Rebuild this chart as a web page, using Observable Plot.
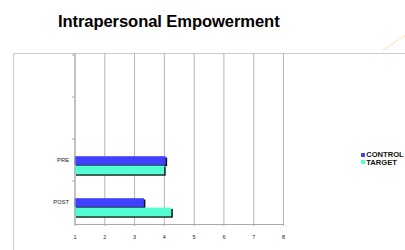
<!DOCTYPE html>
<html>
<head>
<meta charset="utf-8">
<script src="https://cdn.jsdelivr.net/npm/d3@7"></script>
<script src="https://cdn.jsdelivr.net/npm/@observablehq/plot@0.6"></script>
<style>
  html, body { margin: 0; padding: 0; background: #fff; }
  #wrap { position: relative; width: 405px; height: 250px; overflow: hidden; font-family: "Liberation Sans", Arial, sans-serif; }
  #title { position: absolute; left: 58px; top: 12px; font-size: 16.6px; font-weight: bold; color: #000; white-space: nowrap; letter-spacing: -0.1px; }
  #border { position: absolute; left: 13px; top: 52.5px; width: 400px; height: 210px; border-left: 1.5px solid #cccccc; border-top: 1.5px solid #cccccc; box-sizing: border-box; }
  #legend { position: absolute; left: 361px; top: 151px; font-size: 7.6px; font-weight: bold; line-height: 7.7px; white-space: nowrap; color: #111; }
  #legend .sw { display: inline-block; width: 4px; height: 4px; margin-right: 1.2px; vertical-align: 0.5px; }
  #plot { position: absolute; left: 0; top: 0; }
  #deco { position: absolute; left: 0; top: 0; }
</style>
</head>
<body>
<div id="wrap">
  <div id="border"></div>
  <div id="plot"></div>
  <div id="title">Intrapersonal Empowerment</div>
  <div id="legend"></div>
  <svg id="deco" width="405" height="250"><line x1="383" y1="50.5" x2="406" y2="35" stroke="#ffd27f" stroke-width="1" stroke-dasharray="1.5 0.8"/></svg>
</div>
<script>
const categories = ["", " ", "PRE", "POST"];
const series = ["CONTROL", "TARGET"];
const controlValues = [null, null, 4.06, 3.33];
const targetValues = [null, null, 4.01, 4.25];
const xTicks = [1, 2, 3, 4, 5, 6, 7, 8];
const colors = ["#4040ff", "#52ffd2"];

const seriesValues = [controlValues, targetValues];
const data = categories.flatMap((c, i) =>
  series.map((s, j) => ({cat: c, series: s, value: seriesValues[j][i]}))
).filter(d => d.value != null);
const controlData = data.filter(d => d.series === series[0]);
const targetData = data.filter(d => d.series === series[1]);

// position of each series' bar inside its category band (px from band top / bottom)
const controlInset = {insetTop: 17.2, insetBottom: 16.1};
const targetInset = {insetTop: 26.6, insetBottom: 6.6};

const chart = Plot.plot({
  width: 405,
  height: 250,
  marginTop: 53,
  marginBottom: 26,
  marginLeft: 74.5,
  marginRight: 122,
  style: {fontFamily: "'Liberation Sans', Arial, sans-serif", background: "transparent", color: "#222"},
  x: {domain: [1, 8]},
  y: {domain: categories, padding: 0, axis: null},
  color: {domain: series, range: colors},
  marks: [
    Plot.gridX(xTicks, {stroke: "#b5b5b5", strokeOpacity: 1, strokeWidth: 1}),
    Plot.frame({anchor: "bottom", stroke: "#aaa", strokeWidth: 1}),
    Plot.barX(controlData, {y: "cat", x1: 1, x2: "value", fill: "#111", dx: 1.5, dy: 1.3, ...controlInset}),
    Plot.barX(targetData, {y: "cat", x1: 1, x2: "value", fill: "#111", dx: 1.5, dy: 1.3, ...targetInset}),
    Plot.barX(controlData, {y: "cat", x1: 1, x2: "value", fill: "series", ...controlInset}),
    Plot.barX(targetData, {y: "cat", x1: 1, x2: "value", fill: "series", ...targetInset}),
    Plot.ruleX([1], {stroke: "#aaa", strokeWidth: 1}),
    Plot.axisX(xTicks, {tickSize: 2, stroke: "#aaa", tickPadding: 9, fontSize: 5.5, fill: "#222", label: null}),
    Plot.axisY({anchor: "left", tickSize: 2.5, stroke: "#aaa", text: null, dy: -21.4, label: null}),
    Plot.axisY({anchor: "left", tickSize: 0, tickPadding: 6, fontSize: 5.8, fill: "#222", label: null})
  ]
});
document.getElementById("plot").appendChild(chart);

const legend = document.getElementById("legend");
series.forEach((s, i) => {
  const row = document.createElement("div");
  row.innerHTML = `<span class="sw" style="background:${colors[i]}"></span>${s}`;
  legend.appendChild(row);
});
</script>
</body>
</html>
